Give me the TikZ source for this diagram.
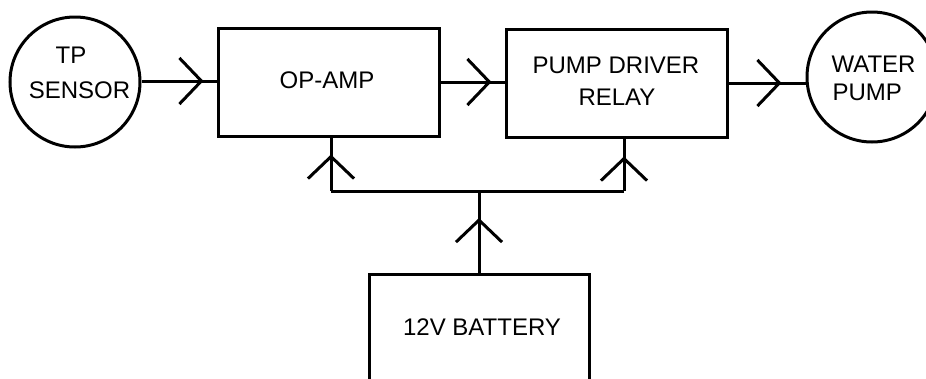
\documentclass[tikz,border=0pt]{standalone}
\usepackage{fontspec}
\setmainfont{Liberation Sans}
\usetikzlibrary{arrows.meta,decorations.markings}
\begin{document}
\begin{tikzpicture}[x=1pt,y=-1pt,
  line width=3pt,
  blk/.style={draw, rectangle, line width=3pt, inner sep=0pt},
  circ/.style={draw, circle, line width=3pt, inner sep=0pt, minimum size=130pt},
  lbl/.style={inner sep=0pt, text=black, font=\fontsize{24}{29}\selectfont},
  tipat/.style={postaction={decorate},
    decoration={markings, mark=at position -#1 with {\arrow{Straight Barb[length=22pt,width=46pt]}}}}
]
\useasboundingbox (0,0) rectangle (926,378);
\fill[white] (0,0) rectangle (926,378);
\clip (0,0) rectangle (926,378);

% nodes
\node[circ] (tp) at (75,82) {};
\node[lbl] (tp1) at (71,55) {TP};
\node[lbl] (tp2) at (79.5,90) {SENSOR};

\node[blk, minimum width=221pt, minimum height=108pt] (op) at (328.5,82) {};
\node[lbl] (optxt) at (327,80) {OP-AMP};

\node[blk, minimum width=221pt, minimum height=108pt] (pd) at (616.5,83) {};
\node[lbl] (pd1) at (616,65) {PUMP DRIVER};
\node[lbl] (pd2) at (617,97) {RELAY};

\node[circ] (wp) at (872,77) {};
\node[lbl, anchor=west] (wp1) at (830,64) {WATER};
\node[lbl, anchor=west] (wp2) at (831,92) {PUMP};

\node[blk, minimum width=220pt, minimum height=140pt] (bat) at (479,344) {};
\node[lbl] (battxt) at (482,327) {12V BATTERY};

% bus coordinates
\coordinate (busL) at (331,191);
\coordinate (busR) at (624,191);
\coordinate (busC) at (479,191);

% signal connectors
\draw[tipat=13pt] (tp.east |- 0,81) -- (op.west |- 0,81);
\draw[tipat=13pt] (op.east) -- (op.east -| pd.west);
\draw[tipat=24pt] (pd.east) -- (pd.east -| wp.west);

% power connectors
\draw[tipat=27pt] (bat.north) -- (busC);
\draw (busL) -- (busR);
\draw[tipat=17pt] (busL) -- (busL |- op.south);
\draw[tipat=18pt] (busR) -- (busR |- pd.south);
\end{tikzpicture}
\end{document}
